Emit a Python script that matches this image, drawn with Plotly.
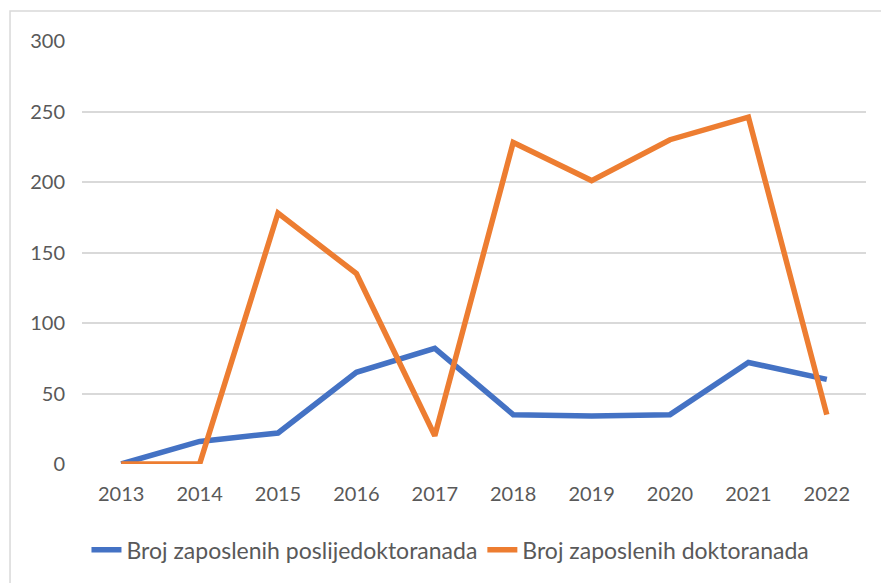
import plotly.graph_objects as go

years = ["2013", "2014", "2015", "2016", "2017", "2018", "2019", "2020", "2021", "2022"]
postdocs = [0, 16, 22, 65, 82, 35, 34, 35, 72, 60]
doktorandi = [0, 0, 178, 135, 20, 228, 201, 230, 246, 35]
y_ticks = [0, 50, 100, 150, 200, 250, 300]

fig = go.Figure()
fig.add_trace(go.Scatter(x=years, y=postdocs, mode="lines",
                         name="Broj zaposlenih poslijedoktoranada",
                         line=dict(color="#4472C4", width=5.5)))
fig.add_trace(go.Scatter(x=years, y=doktorandi, mode="lines",
                         name="Broj zaposlenih doktoranada",
                         line=dict(color="#ED7D31", width=5.5)))

fig.update_layout(
    width=881, height=583,
    margin=dict(l=82, r=15, t=41, b=119),
    paper_bgcolor="white", plot_bgcolor="white",
    font=dict(family="Lato, Open Sans, sans-serif", size=20, color="#595959"),
    showlegend=True,
    legend=dict(orientation="h", x=0.47, xanchor="center", y=-0.203, yanchor="middle",
                font=dict(size=23, color="#595959"), itemwidth=30, tracegroupgap=0),
    xaxis=dict(type="category", range=[-0.5, 9.5], showgrid=False, zeroline=False,
               showline=False, ticks="", ticklabelstandoff=16, fixedrange=True),
    yaxis=dict(range=[0, 300], tickvals=y_ticks, showgrid=True, gridcolor="#d9d9d9",
               gridwidth=1.5, zeroline=False, showline=False, ticks="",
               ticklabelstandoff=16, fixedrange=True),
    shapes=[dict(type="rect", xref="paper", yref="paper",
                 x0=-0.0918, x1=1.2, y0=-0.4, y1=1.0709,
                 line=dict(color="#d9d9d9", width=1.5), layer="below")],
)

fig.write_html("out.html", config={"displayModeBar": False},
               post_script="document.body.style.margin='0';document.body.style.overflow='hidden';")
